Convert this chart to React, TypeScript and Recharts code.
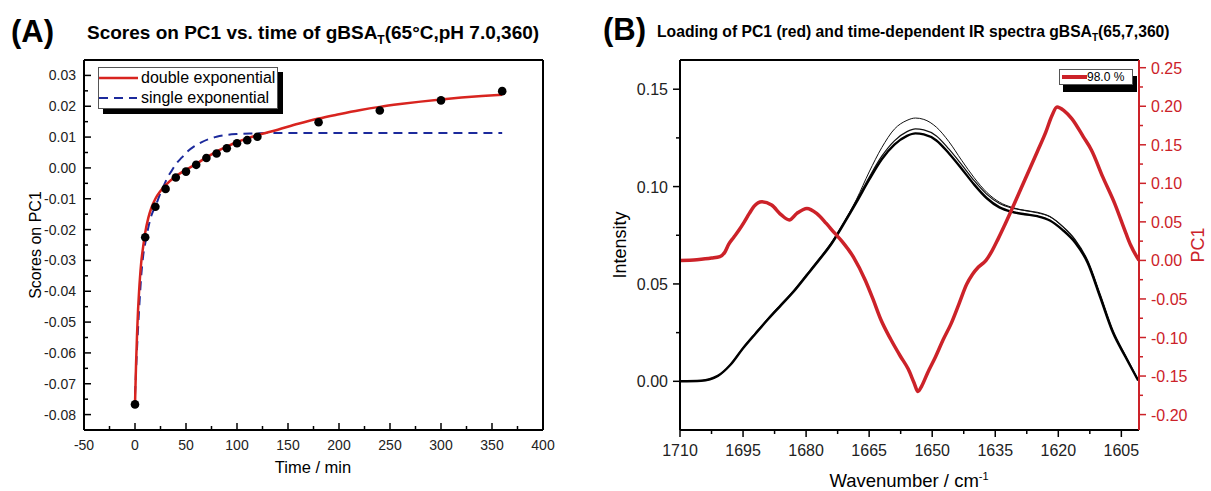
import React from "react";
import { ComposedChart, Line, Scatter, XAxis, YAxis } from "recharts";

const FONT = '"Liberation Sans", Arial, Helvetica, sans-serif';

// ---- (A) scores on PC1 vs. time ----
const scoreTimes = [0, 10, 20, 30, 40, 50, 60, 70, 80, 90, 100, 110, 120, 180, 240, 300, 360];
const scoreValues = [-0.0767, -0.0225, -0.0126, -0.0068, -0.0031, -0.0012, 0.001, 0.0032, 0.0047, 0.0064, 0.008, 0.009, 0.0101, 0.0148, 0.0186, 0.0219, 0.0249];

const doubleFitTimes = [0, 1, 2, 3, 4, 6, 8, 10, 13, 16, 20, 25, 30, 40, 50, 60, 70, 80, 90, 100, 110, 120, 140, 160, 180, 200, 220, 240, 260, 280, 300, 320, 340, 360];
const doubleFitValues = [-0.0769, -0.064, -0.054, -0.046, -0.04, -0.031, -0.0255, -0.021, -0.0163, -0.013, -0.01, -0.0075, -0.0056, -0.0027, -0.0006, 0.0013, 0.0034, 0.0053, 0.0069, 0.0084, 0.0096, 0.0106, 0.0124, 0.0143, 0.016, 0.0174, 0.0187, 0.0198, 0.0207, 0.0215, 0.0222, 0.0228, 0.0233, 0.0237];

const singleFitTimes = [0, 1, 2, 3, 4, 5, 6, 8, 10, 13, 16, 20, 24, 28, 32, 36, 40, 46, 52, 58, 65, 72, 80, 90, 100, 115, 130, 360];
const singleFitValues = [-0.0737, -0.066, -0.0585, -0.052, -0.046, -0.0405, -0.0355, -0.0285, -0.0245, -0.0194, -0.0155, -0.0125, -0.009, -0.006, -0.003, -0.0009, 0.0012, 0.0034, 0.0055, 0.007, 0.0083, 0.0093, 0.0101, 0.0107, 0.011, 0.0112, 0.0113, 0.0113];

const timeTicks = [-50, -25, 0, 25, 50, 75, 100, 125, 150, 175, 200, 225, 250, 275, 300, 325, 350, 375, 400];
const scoreTicks = [-0.08, -0.075, -0.07, -0.065, -0.06, -0.055, -0.05, -0.045, -0.04, -0.035, -0.03, -0.025, -0.02, -0.015, -0.01, -0.005, 0, 0.005, 0.01, 0.015, 0.02, 0.025, 0.03];

// ---- (B) PC1 loading and IR spectra ----
const pc1Wavenumbers = [1710, 1706, 1702.5, 1700.5, 1699.3, 1698.4, 1697.2, 1696, 1694.7, 1693.5, 1692.4, 1690.5, 1688.2, 1685.9, 1684, 1682.2, 1679.8, 1677.5, 1675.2, 1673.3, 1671.5, 1668.7, 1665.9, 1664.1, 1662.2, 1659.9, 1657.6, 1655.7, 1654.3, 1653.4, 1652.5, 1651.1, 1649.2, 1647.4, 1645.5, 1643.6, 1641.8, 1640.4, 1639, 1637.2, 1635.8, 1634.4, 1633, 1631, 1628, 1625, 1623, 1621.5, 1620.3, 1618.6, 1616.8, 1614, 1612.1, 1609.4, 1606.6, 1603.9, 1602.8, 1600.8];
const pc1Loadings = [0, 0.001, 0.003, 0.005, 0.011, 0.021, 0.03, 0.039, 0.05, 0.061, 0.07, 0.076, 0.0718, 0.059, 0.0525, 0.061, 0.0675, 0.061, 0.048, 0.036, 0.025, 0.004, -0.026, -0.05, -0.077, -0.102, -0.124, -0.141, -0.159, -0.17, -0.163, -0.146, -0.125, -0.103, -0.082, -0.056, -0.031, -0.018, -0.0086, 0, 0.012, 0.027, 0.043, 0.067, 0.104, 0.141, 0.166, 0.188, 0.199, 0.194, 0.184, 0.16, 0.143, 0.108, 0.074, 0.035, 0.02, 0];

const spectraWavenumbers = [1710, 1705, 1701, 1698, 1695, 1692, 1689, 1686, 1683, 1680, 1677, 1674, 1671, 1668, 1665, 1662, 1659, 1656, 1654, 1652, 1649, 1646, 1643, 1640, 1637, 1634, 1631, 1628, 1625, 1622, 1619, 1616, 1613, 1610, 1607, 1604, 1601];
const spectrumMain = [0, 0.0003, 0.0028, 0.0085, 0.017, 0.0246, 0.032, 0.039, 0.046, 0.054, 0.062, 0.0705, 0.081, 0.092, 0.1035, 0.114, 0.1215, 0.126, 0.1273, 0.1268, 0.1237, 0.117, 0.1092, 0.101, 0.094, 0.0893, 0.087, 0.0858, 0.0848, 0.0826, 0.0778, 0.0713, 0.0608, 0.043, 0.025, 0.0125, 0.0005];
const spectrumUpper = [0, 0.0003, 0.0028, 0.0086, 0.0172, 0.0249, 0.0324, 0.0395, 0.0466, 0.0546, 0.0627, 0.0712, 0.0818, 0.093, 0.1048, 0.1156, 0.1235, 0.1282, 0.1296, 0.1291, 0.126, 0.1192, 0.1113, 0.103, 0.096, 0.0913, 0.089, 0.0878, 0.0868, 0.0846, 0.0796, 0.0728, 0.062, 0.0445, 0.0262, 0.0132, 0.0006];
const spectrumTop = [0, 0.0003, 0.0028, 0.0085, 0.017, 0.0246, 0.032, 0.039, 0.046, 0.054, 0.062, 0.071, 0.0815, 0.0935, 0.1075, 0.12, 0.1295, 0.134, 0.1352, 0.1345, 0.1305, 0.123, 0.1135, 0.1045, 0.097, 0.092, 0.0893, 0.0877, 0.0865, 0.0845, 0.0795, 0.0725, 0.0615, 0.044, 0.0255, 0.0128, 0.0005];

const wnTicks = [1710, 1702.5, 1695, 1687.5, 1680, 1672.5, 1665, 1657.5, 1650, 1642.5, 1635, 1627.5, 1620, 1612.5, 1605];
const intensityTicks = [0, 0.025, 0.05, 0.075, 0.1, 0.125, 0.15];
const pc1Ticks = [-0.2, -0.175, -0.15, -0.125, -0.1, -0.075, -0.05, -0.025, 0, 0.025, 0.05, 0.075, 0.1, 0.125, 0.15, 0.175, 0.2, 0.225, 0.25];

const RED = "#d8241f";
const BLUE = "#1c2a9c";
const PC1_RED = "#cc2229";

const scores = scoreTimes.map((t, i) => ({ t, v: scoreValues[i] }));
const doubleFit = doubleFitTimes.map((t, i) => ({ t, v: doubleFitValues[i] }));
const singleFit = singleFitTimes.map((t, i) => ({ t, v: singleFitValues[i] }));
const pc1 = pc1Wavenumbers.map((wn, i) => ({ wn, v: pc1Loadings[i] }));
const specMain = spectraWavenumbers.map((wn, i) => ({ wn, v: spectrumMain[i] }));
const specUpper = spectraWavenumbers.map((wn, i) => ({ wn, v: spectrumUpper[i] }));
const specTop = spectraWavenumbers.map((wn, i) => ({ wn, v: spectrumTop[i] }));

const isStep = (v: number, step: number) => Math.abs(v / step - Math.round(v / step)) < 1e-6;

// tick renderers: axis line sits exactly at (x, y) since tickSize and tickMargin are 0
const timeTick = (p: any) => {
  const v = p.payload.value;
  const major = isStep(v, 50);
  return (
    <g>
      <line x1={p.x} x2={p.x} y1={p.y} y2={p.y - (major ? 7 : 4)} stroke="#000" strokeWidth={1.5} />
      {major && (
        <text x={p.x} y={p.y + 20} textAnchor="middle" fontSize={14} fontFamily={FONT} fill="#222">{v}</text>
      )}
    </g>
  );
};

const scoreTick = (p: any) => {
  const v = p.payload.value;
  const major = isStep(v, 0.01);
  return (
    <g>
      <line x1={p.x} x2={p.x + (major ? 7 : 4)} y1={p.y} y2={p.y} stroke="#000" strokeWidth={1.5} />
      {major && (
        <text x={p.x - 8} y={p.y + 5} textAnchor="end" fontSize={14} fontFamily={FONT} fill="#222">{v.toFixed(2)}</text>
      )}
    </g>
  );
};

const wnTick = (p: any) => {
  const v = p.payload.value;
  const major = isStep(v, 15);
  return (
    <g>
      <line x1={p.x} x2={p.x} y1={p.y} y2={p.y + (major ? 7 : 4)} stroke="#000" strokeWidth={1.5} />
      {major && (
        <text x={p.x} y={p.y + 26} textAnchor="middle" fontSize={16} fontFamily={FONT} fill="#222">{v}</text>
      )}
    </g>
  );
};

const wnTopTick = (p: any) => (
  <line x1={p.x} x2={p.x} y1={p.y} y2={p.y + 6} stroke="#000" strokeWidth={1.5} />
);

const intensityTick = (p: any) => {
  const v = p.payload.value;
  const major = isStep(v, 0.05);
  return (
    <g>
      <line x1={p.x} x2={p.x - (major ? 7 : 4)} y1={p.y} y2={p.y} stroke="#000" strokeWidth={1.5} />
      {major && (
        <text x={p.x - 12} y={p.y + 6} textAnchor="end" fontSize={16} fontFamily={FONT} fill="#222">{v.toFixed(2)}</text>
      )}
    </g>
  );
};

const pc1Tick = (p: any) => {
  const v = p.payload.value;
  const major = isStep(v, 0.05);
  return (
    <g>
      <line x1={p.x} x2={p.x + (major ? 7 : 4)} y1={p.y} y2={p.y} stroke={PC1_RED} strokeWidth={1.5} />
      {major && (
        <text x={p.x + 12} y={p.y + 6} textAnchor="start" fontSize={16} fontFamily={FONT} fill={PC1_RED}>{v.toFixed(2)}</text>
      )}
    </g>
  );
};

const dot = (p: any) => <circle cx={p.cx} cy={p.cy} r={4.3} fill="#000" />;

const abs = (style: React.CSSProperties): React.CSSProperties => ({
  position: "absolute",
  fontFamily: FONT,
  whiteSpace: "nowrap",
  lineHeight: 1,
  ...style,
});

const rotated = (cx: number, cy: number, style: React.CSSProperties): React.CSSProperties =>
  abs({ left: cx, top: cy, transform: "translate(-50%, -50%) rotate(-90deg)", ...style });

const frame = { stroke: "#000", strokeWidth: 2 };

// axes get 1px of room (a 0px axis is not drawn), so the plot is x 84..543, y 60..430
function PanelA() {
  return (
    <ComposedChart width={560} height={491} margin={{ top: 59, right: 16, bottom: 60, left: 83 }}>
      <XAxis xAxisId="t" type="number" dataKey="t" domain={[-50, 400]} allowDataOverflow ticks={timeTicks}
        interval={0} height={1} tickSize={0} tickMargin={0} tickLine={false} axisLine={frame} tick={timeTick} />
      <XAxis xAxisId="top" type="number" orientation="top" domain={[-50, 400]} height={1} tick={false} tickLine={false} axisLine={frame} />
      <YAxis yAxisId="s" type="number" domain={[-0.085, 0.035]} allowDataOverflow ticks={scoreTicks}
        interval={0} width={1} tickSize={0} tickMargin={0} tickLine={false} axisLine={frame} tick={scoreTick} />
      <YAxis yAxisId="right" type="number" orientation="right" domain={[-0.085, 0.035]} width={1} tick={false} tickLine={false} axisLine={frame} />
      <Scatter xAxisId="t" yAxisId="s" data={scores} dataKey="v" shape={dot} isAnimationActive={false} />
      <Line xAxisId="t" yAxisId="s" data={singleFit} dataKey="v" type="monotone" stroke={BLUE} strokeWidth={2}
        strokeDasharray="9 6" dot={false} activeDot={false} isAnimationActive={false} />
      <Line xAxisId="t" yAxisId="s" data={doubleFit} dataKey="v" type="monotone" stroke={RED} strokeWidth={2.5}
        dot={false} activeDot={false} isAnimationActive={false} />
    </ComposedChart>
  );
}

// plot is x 680..1139 (page), y 60..430
function PanelB() {
  return (
    <ComposedChart width={611} height={491} margin={{ top: 59, right: 71, bottom: 60, left: 79 }}>
      <XAxis xAxisId="wn" type="number" dataKey="wn" reversed domain={[1600.8, 1710]} allowDataOverflow ticks={wnTicks}
        interval={0} height={1} tickSize={0} tickMargin={0} tickLine={false} axisLine={frame} tick={wnTick} />
      <XAxis xAxisId="wnTop" type="number" orientation="top" reversed domain={[1600.8, 1710]} ticks={wnTicks}
        interval={0} height={1} tickSize={0} tickMargin={0} tickLine={false} axisLine={frame} tick={wnTopTick} />
      <YAxis yAxisId="int" type="number" domain={[-0.025, 0.165]} allowDataOverflow ticks={intensityTicks}
        interval={0} width={1} tickSize={0} tickMargin={0} tickLine={false} axisLine={frame} tick={intensityTick} />
      <YAxis yAxisId="pc1" type="number" orientation="right" domain={[-0.22, 0.26]} allowDataOverflow ticks={pc1Ticks}
        interval={0} width={1} tickSize={0} tickMargin={0} tickLine={false} axisLine={{ stroke: PC1_RED, strokeWidth: 2 }} tick={pc1Tick} />
      <Line xAxisId="wn" yAxisId="int" data={specTop} dataKey="v" type="monotone" stroke="#111" strokeWidth={1}
        dot={false} activeDot={false} isAnimationActive={false} />
      <Line xAxisId="wn" yAxisId="int" data={specUpper} dataKey="v" type="monotone" stroke="#111" strokeWidth={1.2}
        dot={false} activeDot={false} isAnimationActive={false} />
      <Line xAxisId="wn" yAxisId="int" data={specMain} dataKey="v" type="monotone" stroke="#000" strokeWidth={2.4}
        dot={false} activeDot={false} isAnimationActive={false} />
      <Line xAxisId="wn" yAxisId="pc1" data={pc1} dataKey="v" type="monotone" stroke={PC1_RED} strokeWidth={3.5}
        dot={false} activeDot={false} isAnimationActive={false} />
    </ComposedChart>
  );
}

export default function App() {
  return (
    <div style={{ position: "absolute", left: 0, top: 0, width: 1211, height: 491, background: "#fff", overflow: "hidden" }}>
      <div style={{ position: "absolute", left: 0, top: 0 }}>
        <PanelA />
      </div>
      <div style={{ position: "absolute", left: 600, top: 0 }}>
        <PanelB />
      </div>

      {/* panel A texts */}
      <div style={abs({ left: 11, top: 16, fontSize: 31, fontWeight: 700 })}>(A)</div>
      <div style={abs({ left: 87, top: 23, fontSize: 19, fontWeight: 700 })}>
        Scores on PC1 vs. time of gBSA<sub style={{ fontSize: 12 }}>T</sub>(65°C,pH 7.0,360)
      </div>
      <div style={rotated(36, 245, { fontSize: 16 })}>Scores on PC1</div>
      <div style={abs({ left: 313, top: 467, fontSize: 16.5, transform: "translate(-50%, -50%)" })}>Time / min</div>

      {/* panel A legend */}
      <div style={abs({ left: 98, top: 67, width: 178, height: 40, border: "1px solid #555", background: "#fff", boxShadow: "5px 5px 0 #000" })}>
        <svg width={40} height={40} style={{ position: "absolute", left: 0, top: 0 }}>
          <line x1={0} x2={39} y1={10} y2={10} stroke={RED} strokeWidth={2.5} />
          <line x1={0} x2={38} y1={30} y2={30} stroke={BLUE} strokeWidth={2} strokeDasharray="9 6" />
        </svg>
        <div style={abs({ left: 42, top: 2, fontSize: 16 })}>double exponential</div>
        <div style={abs({ left: 42, top: 22, fontSize: 16 })}>single exponential</div>
      </div>

      {/* panel B texts */}
      <div style={abs({ left: 603, top: 14, fontSize: 31, fontWeight: 700 })}>(B)</div>
      <div style={abs({ left: 657, top: 24, fontSize: 15.7, fontWeight: 700 })}>
        Loading of PC1 (red) and time-dependent IR spectra gBSA<sub style={{ fontSize: 10 }}>T</sub>(65,7,360)
      </div>
      <div style={rotated(620, 245, { fontSize: 18 })}>Intensity</div>
      <div style={rotated(1198, 245, { fontSize: 18, color: PC1_RED })}>PC1</div>
      <div style={abs({ left: 909, top: 481, fontSize: 18.5, transform: "translate(-50%, -50%)" })}>
        Wavenumber / cm<sup style={{ fontSize: 11 }}>-1</sup>
      </div>

      {/* panel B legend */}
      <div style={abs({ left: 1059, top: 69, width: 72, height: 14, border: "1px solid #555", background: "#fff", boxShadow: "4px 7px 0 #000" })}>
        <svg width={28} height={14} style={{ position: "absolute", left: 0, top: 0 }}>
          <line x1={2} x2={27} y1={7} y2={7} stroke={PC1_RED} strokeWidth={4} />
        </svg>
        <div style={abs({ left: 27, top: 1, fontSize: 12 })}>98.0 %</div>
      </div>
    </div>
  );
}
